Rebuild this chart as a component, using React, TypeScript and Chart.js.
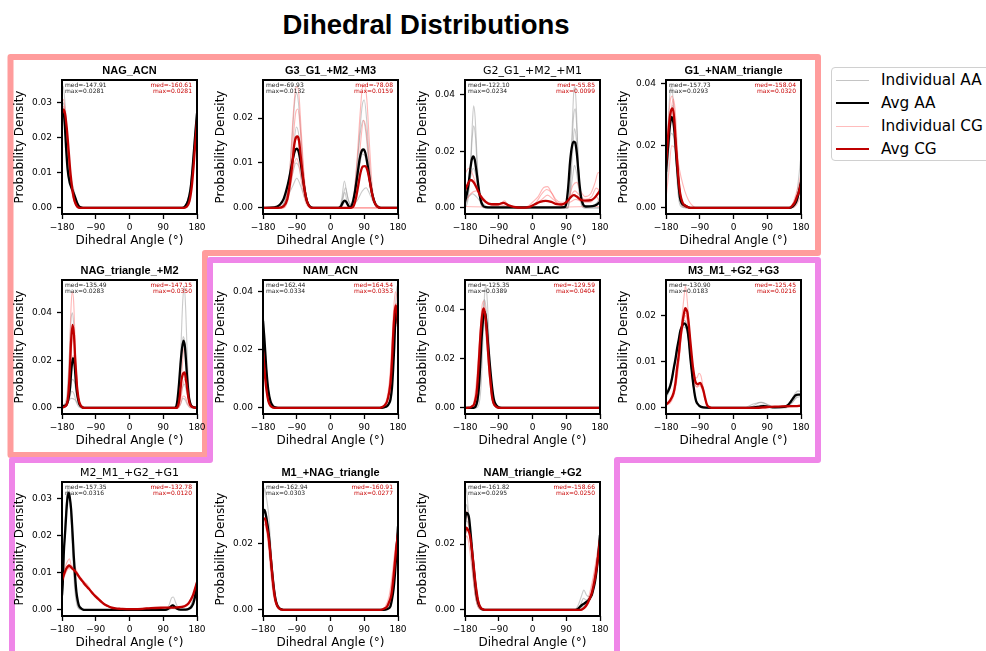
import React, { useEffect, useRef } from "react";
import { Chart, registerables } from "chart.js";

Chart.register(...registerables);
Chart.defaults.font.family = '"DejaVu Sans", sans-serif';

type Pt = [number, number];

const ANGLE_TICKS = [-180, -90, 0, 90, 180];

const PANEL_TITLES = [
  "NAG_ACN", "G3_G1_+M2_+M3", "G2_G1_+M2_+M1", "G1_+NAM_triangle",
  "NAG_triangle_+M2", "NAM_ACN", "NAM_LAC", "M3_M1_+G2_+G3",
  "M2_M1_+G2_+G1", "M1_+NAG_triangle", "NAM_triangle_+G2",
];
const TITLE_BOLD = [true, true, false, true, true, true, true, true, false, true, true];
const MEDIAN_AA = [-147.91, -69.93, -122.10, -157.73, -135.49, 162.44, -125.35, -130.90, -157.35, -162.94, -161.82];
const MEDIAN_CG = [-160.61, -78.08, -55.85, -158.04, -147.15, 164.54, -129.59, -125.45, -132.78, -160.91, -158.66];
const Y_TICKS = [
  [0, 0.01, 0.02, 0.03], [0, 0.01, 0.02], [0, 0.02, 0.04], [0, 0.02, 0.04],
  [0, 0.02, 0.04], [0, 0.02, 0.04], [0, 0.02, 0.04], [0, 0.01, 0.02],
  [0, 0.01, 0.02, 0.03], [0, 0.02], [0, 0.02],
];

// ---------- NAG_ACN ----------
const nagAcnAvgAA: Pt[] = [[-180,0.027],[-177,0.0281],[-173,0.0245],[-169,0.017],[-165,0.011],[-160,0.0075],[-155,0.0058],[-150,0.0045],[-145,0.003],[-140,0.0015],[-135,0.0005],[-128,0.0001],[-118,0],[140,0],[148,0.0004],[156,0.002],[163,0.0055],[168,0.011],[172,0.0165],[176,0.022],[180,0.027]];
const nagAcnAvgCG: Pt[] = [[-180,0.027],[-176,0.0281],[-172,0.027],[-167,0.0225],[-162,0.016],[-157,0.0095],[-152,0.005],[-147,0.0022],[-142,0.0008],[-136,0.0001],[-128,0],[145,0],[152,0.0003],[160,0.002],[166,0.006],[171,0.012],[175,0.018],[178,0.022],[180,0.025]];
const nagAcnIndAA: Pt[][] = [
  [[-180,0.033],[-177,0.0348],[-172,0.03],[-166,0.02],[-160,0.011],[-154,0.006],[-148,0.0035],[-142,0.0015],[-135,0.0003],[-125,0],[145,0],[155,0.002],[163,0.007],[170,0.015],[175,0.022],[180,0.028]],
  [[-180,0.025],[-177,0.026],[-172,0.022],[-166,0.015],[-160,0.01],[-154,0.0075],[-148,0.005],[-142,0.0025],[-135,0.0007],[-126,0],[140,0],[150,0.0008],[160,0.004],[168,0.011],[174,0.019],[180,0.026]],
  [[-180,0.029],[-176,0.03],[-171,0.025],[-165,0.016],[-158,0.008],[-151,0.004],[-144,0.0018],[-137,0.0005],[-128,0],[142,0],[152,0.001],[161,0.005],[169,0.013],[175,0.02],[180,0.027]],
];
const nagAcnIndCG: Pt[][] = [
  [[-180,0.03],[-176,0.031],[-171,0.027],[-165,0.018],[-159,0.01],[-153,0.0045],[-147,0.0018],[-140,0.0004],[-132,0],[146,0],[154,0.0008],[162,0.004],[169,0.011],[175,0.019],[180,0.026]],
  [[-180,0.025],[-176,0.0265],[-171,0.024],[-165,0.017],[-159,0.009],[-153,0.0045],[-147,0.002],[-140,0.0006],[-132,0],[148,0],[156,0.001],[164,0.005],[171,0.013],[176,0.019],[180,0.023]],
  [[-180,0.028],[-175,0.029],[-170,0.025],[-164,0.016],[-158,0.008],[-152,0.0035],[-146,0.0013],[-139,0.0002],[-130,0],[144,0],[153,0.0006],[161,0.003],[168,0.009],[174,0.017],[180,0.025]],
];

// ---------- G3_G1_+M2_+M3 ----------
const g3g1AvgAA: Pt[] = [[-180,0],[-150,0.0001],[-135,0.0007],[-125,0.002],[-115,0.0048],[-108,0.0075],[-100,0.011],[-95,0.0127],[-90,0.0132],[-85,0.0125],[-80,0.0103],[-74,0.0068],[-68,0.0035],[-62,0.0013],[-55,0.0003],[-45,0],[20,0],[28,0.0004],[33,0.0012],[38,0.0016],[43,0.0012],[48,0.0004],[52,0.0002],[58,0.0008],[65,0.0035],[72,0.0075],[78,0.011],[84,0.0128],[88,0.013],[93,0.0122],[99,0.0095],[105,0.006],[112,0.0028],[120,0.0008],[130,0.0001],[140,0],[180,0]];
const g3g1AvgCG: Pt[] = [[-180,0],[-140,0],[-125,0.0004],[-115,0.002],[-108,0.0055],[-102,0.0095],[-97,0.0138],[-92,0.0157],[-88,0.0159],[-84,0.015],[-80,0.012],[-75,0.008],[-70,0.0045],[-64,0.0018],[-57,0.0004],[-48,0],[55,0],[62,0.0005],[68,0.0022],[74,0.005],[80,0.0078],[86,0.0092],[92,0.0093],[98,0.0085],[104,0.0062],[110,0.0035],[117,0.0013],[125,0.0003],[135,0],[180,0]];
const g3g1IndAA: Pt[][] = [
  [[-180,0],[-135,0],[-120,0.002],[-110,0.007],[-102,0.016],[-95,0.024],[-90,0.0255],[-85,0.023],[-78,0.015],[-70,0.006],[-62,0.0015],[-50,0],[25,0],[32,0.0015],[38,0.0035],[44,0.0015],[52,0.0002],[62,0.002],[70,0.008],[78,0.017],[85,0.023],[90,0.024],[96,0.02],[103,0.011],[110,0.004],[118,0.001],[130,0],[180,0]],
  [[-180,0],[-135,0],[-122,0.0015],[-110,0.0045],[-100,0.008],[-92,0.01],[-85,0.0093],[-76,0.006],[-66,0.0025],[-55,0.0005],[-45,0],[22,0],[30,0.002],[37,0.006],[44,0.003],[52,0.0008],[62,0.003],[72,0.011],[80,0.017],[87,0.0195],[94,0.017],[102,0.01],[110,0.004],[120,0.001],[132,0],[180,0]],
  [[-180,0],[-145,0],[-128,0.0015],[-112,0.003],[-100,0.005],[-90,0.0066],[-80,0.005],[-70,0.0025],[-58,0.0006],[-45,0],[25,0],[33,0.0025],[40,0.0045],[47,0.002],[55,0.0006],[70,0.0015],[85,0.0038],[95,0.0045],[105,0.003],[115,0.0012],[128,0.0002],[140,0],[180,0]],
  [[-180,0],[-135,0],[-120,0.0015],[-108,0.006],[-98,0.014],[-91,0.018],[-84,0.016],[-76,0.009],[-68,0.0035],[-58,0.0007],[-48,0],[28,0],[35,0.001],[40,0.0015],[46,0.0006],[58,0.001],[68,0.004],[77,0.009],[85,0.012],[92,0.0115],[100,0.008],[108,0.0035],[117,0.001],[128,0],[180,0]],
];
const g3g1IndCG: Pt[][] = [
  [[-180,0],[-130,0],[-118,0.002],[-108,0.009],[-100,0.02],[-94,0.026],[-89,0.027],[-84,0.025],[-78,0.017],[-71,0.008],[-64,0.0025],[-55,0.0004],[-45,0],[180,0]],
  [[-180,0],[-128,0],[-115,0.002],[-106,0.007],[-98,0.013],[-92,0.0155],[-86,0.015],[-79,0.01],[-71,0.0045],[-62,0.0012],[-52,0],[55,0],[63,0.003],[71,0.011],[79,0.021],[86,0.027],[91,0.0271],[97,0.024],[104,0.014],[111,0.005],[119,0.001],[130,0],[180,0]],
  [[-180,0],[-125,0],[-114,0.0015],[-104,0.006],[-96,0.01],[-90,0.011],[-84,0.0095],[-77,0.0055],[-69,0.002],[-60,0.0003],[-50,0],[58,0],[66,0.002],[74,0.008],[82,0.016],[88,0.0195],[94,0.018],[101,0.012],[108,0.005],[116,0.0012],[126,0],[180,0]],
  [[-180,0],[-128,0],[-116,0.0018],[-106,0.008],[-98,0.017],[-92,0.0215],[-87,0.022],[-82,0.019],[-76,0.012],[-69,0.005],[-61,0.0012],[-52,0],[180,0]],
];

// ---------- G2_G1_+M2_+M1 ----------
const g2g1AvgAA: Pt[] = [[-180,0.0021],[-175,0.005],[-170,0.009],[-166,0.0135],[-162,0.017],[-158,0.0182],[-154,0.017],[-150,0.0135],[-146,0.0095],[-142,0.0055],[-137,0.0022],[-132,0.0008],[-125,0.0003],[-110,0.0002],[60,0.0002],[85,0.0003],[90,0.0015],[95,0.007],[100,0.016],[105,0.0215],[110,0.0234],[114,0.023],[118,0.0195],[122,0.0135],[126,0.0075],[130,0.0035],[135,0.0012],[142,0.0005],[160,0.0006],[172,0.0012],[180,0.0021]];
const g2g1AvgCG: Pt[] = [[-180,0.0062],[-172,0.0085],[-165,0.0099],[-158,0.0092],[-150,0.0074],[-140,0.0045],[-125,0.0021],[-110,0.0013],[-90,0.0013],[-78,0.0018],[-65,0.001],[-50,0.0004],[-30,0.0001],[-10,0.0003],[5,0.0012],[20,0.0021],[35,0.0025],[50,0.0021],[65,0.0013],[78,0.0012],[92,0.0022],[102,0.0038],[110,0.0045],[118,0.004],[127,0.003],[140,0.0026],[155,0.0027],[165,0.0035],[174,0.005],[180,0.0062]];
const g2g1IndAA: Pt[][] = [
  [[-180,0],[-172,0.003],[-166,0.013],[-161,0.028],[-157,0.036],[-153,0.032],[-148,0.018],[-143,0.006],[-137,0.001],[-128,0],[95,0],[100,0.006],[105,0.025],[110,0.041],[113,0.043],[117,0.035],[122,0.016],[127,0.004],[133,0.0005],[140,0],[180,0]],
  [[-180,0.001],[-172,0.004],[-166,0.013],[-161,0.024],[-157,0.029],[-152,0.025],[-147,0.013],[-141,0.004],[-134,0.0006],[-125,0],[93,0],[99,0.006],[105,0.022],[110,0.033],[114,0.035],[119,0.026],[124,0.011],[130,0.002],[137,0],[180,0]],
  [[-180,0.004],[-172,0.006],[-165,0.011],[-158,0.014],[-152,0.012],[-145,0.006],[-138,0.002],[-128,0.0005],[-115,0],[95,0],[101,0.007],[107,0.02],[112,0.028],[117,0.024],[123,0.012],[129,0.004],[136,0.001],[150,0.0005],[170,0.001],[180,0.004]],
  [[-180,0.003],[-170,0.004],[-160,0.005],[-150,0.004],[-140,0.0025],[-125,0.0008],[-110,0],[92,0],[100,0.004],[107,0.011],[112,0.015],[118,0.012],[125,0.005],[132,0.0015],[145,0.0005],[165,0.001],[180,0.003]],
];
const g2g1IndCG: Pt[][] = [
  [[-180,0.012],[-170,0.014],[-160,0.012],[-150,0.008],[-140,0.005],[-125,0.002],[-110,0.0012],[-95,0.001],[-80,0.002],[-70,0.0012],[-55,0.0003],[-35,0],[-15,0.0004],[0,0.002],[15,0.004],[30,0.0072],[40,0.0075],[52,0.005],[65,0.002],[80,0.0015],[95,0.003],[108,0.008],[118,0.009],[128,0.006],[140,0.004],[155,0.005],[167,0.009],[175,0.0125],[180,0.012]],
  [[-180,0.006],[-172,0.009],[-163,0.01],[-152,0.008],[-140,0.0045],[-125,0.002],[-105,0.001],[-85,0.0015],[-75,0.0025],[-65,0.001],[-45,0.0002],[-25,0],[-5,0.0005],[10,0.002],[25,0.005],[38,0.0065],[50,0.0055],[62,0.003],[75,0.002],[90,0.002],[103,0.0045],[113,0.006],[125,0.0045],[140,0.003],[158,0.004],[170,0.007],[180,0.006]],
  [[-180,0.002],[-165,0.005],[-150,0.006],[-135,0.004],[-115,0.0015],[-90,0.001],[-60,0.0005],[-30,0],[0,0.0008],[25,0.003],[40,0.0045],[55,0.003],[75,0.001],[100,0.002],[115,0.003],[135,0.002],[155,0.002],[170,0.004],[180,0.002]],
  [[-180,0.0005],[-120,0.0003],[0,0.0002],[120,0.0004],[180,0.0005]],
];

// ---------- G1_+NAM_triangle ----------
const g1NamAvgAA: Pt[] = [[-180,0.0116],[-175,0.019],[-170,0.026],[-165,0.0293],[-160,0.0272],[-156,0.0225],[-151,0.014],[-147,0.0083],[-143,0.0035],[-138,0.0015],[-130,0.0008],[-122,0.0003],[-112,0],[150,0],[158,0.0005],[165,0.0015],[170,0.003],[175,0.0055],[180,0.0083]];
const g1NamAvgCG: Pt[] = [[-180,0.0137],[-175,0.022],[-170,0.029],[-165,0.0318],[-162,0.032],[-158,0.0285],[-154,0.021],[-150,0.0145],[-146,0.0085],[-142,0.0045],[-136,0.0018],[-128,0.0007],[-118,0.0001],[-108,0],[148,0],[156,0.0006],[163,0.0017],[169,0.0035],[174,0.005],[180,0.0078]];
const g1NamIndAA: Pt[][] = [
  [[-180,0.014],[-175,0.026],[-170,0.036],[-165,0.0392],[-160,0.033],[-155,0.02],[-150,0.008],[-145,0.002],[-138,0.0003],[-125,0],[150,0],[160,0.001],[168,0.004],[175,0.011],[180,0.017]],
  [[-180,0.005],[-174,0.015],[-168,0.028],[-162,0.033],[-157,0.028],[-152,0.016],[-147,0.006],[-141,0.0015],[-133,0.0002],[-120,0],[152,0],[162,0.0008],[170,0.003],[176,0.006],[180,0.009]],
  [[-180,0.012],[-173,0.019],[-166,0.024],[-160,0.023],[-154,0.016],[-148,0.007],[-141,0.0025],[-133,0.0008],[-120,0.0001],[-110,0],[155,0],[165,0.001],[172,0.003],[180,0.007]],
];
const g1NamIndCG: Pt[][] = [
  [[-180,0.003],[-172,0.012],[-165,0.02],[-158,0.0195],[-150,0.016],[-140,0.01],[-130,0.0055],[-120,0.0025],[-110,0.0008],[-100,0],[155,0],[168,0.001],[180,0.004]],
  [[-180,0.016],[-174,0.027],[-168,0.035],[-163,0.036],[-158,0.031],[-153,0.02],[-148,0.009],[-142,0.003],[-135,0.0005],[-122,0],[150,0],[160,0.002],[168,0.005],[175,0.008],[180,0.011]],
  [[-180,0.01],[-173,0.02],[-166,0.031],[-161,0.035],[-156,0.032],[-151,0.022],[-146,0.011],[-140,0.003],[-132,0.0005],[-120,0],[152,0],[163,0.0015],[172,0.005],[180,0.009]],
];

// ---------- NAG_triangle_+M2 ----------
const nagTriAvgAA: Pt[] = [[-180,0.0007],[-170,0.001],[-164,0.003],[-159,0.0077],[-155,0.016],[-151,0.021],[-146,0.0175],[-143,0.011],[-140,0.0063],[-136,0.003],[-133,0.0014],[-126,0.0003],[-115,0],[120,0],[125,0.0008],[128,0.0035],[132,0.01],[136,0.0185],[140,0.025],[144,0.0283],[148,0.0255],[151,0.019],[154,0.012],[158,0.0049],[161,0.0025],[164,0.0011],[170,0.0003],[180,0.0001]];
const nagTriAvgCG: Pt[] = [[-180,0.0002],[-170,0.0008],[-165,0.003],[-162,0.0077],[-159,0.016],[-156,0.0275],[-152,0.035],[-148,0.0305],[-145,0.021],[-142,0.014],[-140,0.0091],[-136,0.004],[-133,0.002],[-126,0.0003],[-118,0],[125,0],[130,0.0012],[133,0.0035],[136,0.008],[139,0.012],[143,0.0145],[147,0.015],[150,0.0125],[153,0.0091],[157,0.0045],[160,0.002],[164,0.0008],[169,0.0003],[180,0]];
const nagTriIndAA: Pt[][] = [
  [[-180,0],[-168,0.001],[-160,0.004],[-154,0.007],[-148,0.006],[-141,0.002],[-134,0.0003],[-125,0],[125,0],[132,0.006],[137,0.025],[142,0.045],[146,0.0513],[150,0.041],[155,0.018],[160,0.005],[166,0.0008],[175,0],[180,0]],
  [[-180,0],[-166,0.001],[-159,0.006],[-153,0.012],[-147,0.011],[-141,0.005],[-134,0.001],[-125,0],[125,0],[132,0.005],[138,0.02],[143,0.03],[148,0.027],[153,0.015],[158,0.005],[165,0.0007],[175,0],[180,0]],
  [[-180,0.0005],[-168,0.004],[-161,0.02],[-156,0.037],[-152,0.04],[-148,0.033],[-143,0.016],[-137,0.004],[-130,0.0005],[-120,0],[128,0],[136,0.0015],[142,0.004],[148,0.0035],[155,0.0012],[163,0],[180,0]],
  [[-180,0.001],[-166,0.002],[-156,0.004],[-146,0.0035],[-136,0.0015],[-125,0.0002],[-115,0],[125,0],[133,0.003],[140,0.008],[146,0.01],[152,0.007],[158,0.003],[166,0.0006],[175,0],[180,0]],
];
const nagTriIndCG: Pt[][] = [
  [[-180,0],[-167,0.003],[-161,0.018],[-157,0.038],[-153,0.049],[-149,0.045],[-145,0.028],[-140,0.01],[-134,0.002],[-126,0],[130,0],[137,0.002],[143,0.005],[149,0.0045],[155,0.0018],[163,0.0002],[175,0],[180,0]],
  [[-180,0],[-166,0.002],[-160,0.012],[-155,0.025],[-151,0.03],[-147,0.027],[-142,0.015],[-137,0.005],[-130,0.0008],[-122,0],[128,0],[134,0.004],[140,0.016],[145,0.025],[150,0.022],[155,0.012],[161,0.003],[168,0.0003],[180,0]],
  [[-180,0],[-165,0.002],[-159,0.01],[-154,0.019],[-150,0.022],[-145,0.018],[-140,0.009],[-134,0.002],[-126,0],[130,0],[137,0.004],[143,0.01],[148,0.012],[153,0.009],[159,0.004],[166,0.0006],[175,0],[180,0]],
];

// ---------- NAM_ACN ----------
const namAcnAvgAA: Pt[] = [[-180,0.03],[-177,0.025],[-175,0.0213],[-171,0.0132],[-166,0.0063],[-160,0.0023],[-153,0.0006],[-144,0.0001],[-135,0],[132,0],[142,0.0002],[151,0.0006],[156,0.0015],[160,0.0029],[164,0.007],[167,0.0132],[170,0.021],[172,0.028],[175,0.0334],[178,0.032],[180,0.029]];
const namAcnAvgCG: Pt[] = [[-180,0.02],[-177,0.015],[-174,0.01],[-170,0.0055],[-166,0.0025],[-160,0.0007],[-153,0.0001],[-145,0],[128,0],[136,0.0002],[142,0.0006],[147,0.0013],[151,0.0023],[156,0.005],[160,0.0086],[164,0.016],[167,0.0247],[170,0.031],[173.6,0.0353],[177,0.0335],[180,0.028]];
const namAcnIndAA: Pt[][] = [
  [[-180,0.033],[-176,0.026],[-172,0.016],[-167,0.007],[-162,0.0025],[-155,0.0006],[-145,0],[140,0],[150,0.0005],[158,0.0025],[164,0.009],[169,0.02],[173,0.033],[177,0.042],[180,0.038]],
  [[-180,0.026],[-176,0.019],[-171,0.011],[-166,0.005],[-160,0.0015],[-152,0.0003],[-142,0],[135,0],[145,0.0008],[153,0.003],[160,0.008],[166,0.017],[171,0.026],[176,0.031],[180,0.028]],
  [[-180,0.03],[-176,0.023],[-172,0.014],[-167,0.0065],[-161,0.0022],[-154,0.0004],[-145,0],[142,0],[151,0.0006],[159,0.003],[165,0.011],[170,0.024],[174,0.034],[178,0.035],[180,0.033]],
];
const namAcnIndCG: Pt[][] = [
  [[-180,0.027],[-176,0.019],[-172,0.01],[-167,0.004],[-161,0.0012],[-153,0.0002],[-145,0],[132,0],[142,0.0008],[150,0.003],[157,0.009],[163,0.02],[168,0.033],[173,0.04],[177,0.038],[180,0.033]],
  [[-180,0.019],[-176,0.013],[-171,0.006],[-166,0.0022],[-159,0.0005],[-150,0],[130,0],[140,0.0005],[149,0.002],[157,0.007],[164,0.019],[170,0.031],[175,0.033],[180,0.029]],
  [[-180,0.024],[-176,0.018],[-171,0.009],[-166,0.0035],[-159,0.0008],[-150,0],[134,0],[144,0.0007],[152,0.003],[159,0.01],[165,0.024],[171,0.035],[176,0.036],[180,0.031]],
];

// ---------- NAM_LAC ----------
const namLacAvgAA: Pt[] = [[-180,0],[-160,0],[-156,0.0001],[-151.6,0.0007],[-147,0.003],[-142.7,0.0088],[-139.5,0.017],[-136.4,0.0264],[-133,0.034],[-129,0.0386],[-126.5,0.0389],[-122,0.0331],[-118.5,0.026],[-115,0.0196],[-111,0.013],[-107,0.0074],[-103.5,0.0038],[-100,0.002],[-92,0.0004],[-82,0],[180,0]];
const namLacAvgCG: Pt[] = [[-180,0],[-170,0.0001],[-165,0.0003],[-160,0.0008],[-156,0.0014],[-152,0.0035],[-148.9,0.0061],[-145.8,0.012],[-142.7,0.0196],[-139.5,0.028],[-136.4,0.0345],[-133,0.039],[-130,0.0404],[-126,0.0375],[-122,0.031],[-118.5,0.023],[-115,0.0155],[-111,0.0092],[-108,0.0047],[-104.5,0.0022],[-101,0.0011],[-94,0.0002],[-85,0],[180,0]];
const namLacIndAA: Pt[][] = [
  [[-180,0],[-150,0],[-142,0.002],[-136,0.012],[-131,0.033],[-127,0.048],[-124,0.0495],[-120,0.042],[-115,0.024],[-110,0.009],[-104,0.002],[-96,0.0002],[-85,0],[180,0]],
  [[-180,0],[-152,0],[-144,0.004],[-138,0.018],[-133,0.036],[-129,0.044],[-125,0.042],[-120,0.032],[-114,0.016],[-108,0.005],[-101,0.0008],[-92,0],[180,0]],
  [[-180,0],[-158,0],[-148,0.003],[-141,0.015],[-135,0.03],[-130,0.035],[-125,0.031],[-119,0.02],[-112,0.008],[-105,0.002],[-96,0.0002],[-85,0],[180,0]],
];
const namLacIndCG: Pt[][] = [
  [[-180,0],[-162,0],[-153,0.003],[-146,0.014],[-140,0.03],[-135,0.041],[-130,0.0435],[-125,0.038],[-119,0.025],[-113,0.011],[-107,0.003],[-99,0.0004],[-90,0],[180,0]],
  [[-180,0],[-164,0],[-155,0.0035],[-148,0.013],[-141,0.028],[-136,0.036],[-131,0.038],[-126,0.034],[-120,0.023],[-114,0.011],[-107,0.0035],[-99,0.0006],[-90,0],[180,0]],
];

// ---------- M3_M1_+G2_+G3 ----------
const m3m1AvgAA: Pt[] = [[-180,0.0029],[-174,0.0037],[-169,0.0047],[-164,0.0064],[-160,0.0083],[-155,0.0105],[-151,0.0126],[-146,0.0148],[-142,0.0166],[-137,0.0177],[-132,0.0183],[-127,0.018],[-123,0.017],[-119,0.0145],[-115.5,0.0112],[-111,0.0078],[-106.6,0.0047],[-103,0.0027],[-99.4,0.0014],[-94,0.0007],[-90.5,0.0004],[-80,0.0001],[-60,0],[40,0],[55,0.0001],[70,0.0003],[80,0.0004],[90,0.0003],[110,0.0001],[135,0.0002],[145,0.0006],[153,0.0014],[160,0.0022],[165,0.0027],[172,0.0029],[180,0.0029]];
const m3m1AvgCG: Pt[] = [[-180,0.0007],[-170,0.0015],[-160,0.0032],[-155,0.0053],[-151,0.0083],[-146,0.0115],[-142,0.0148],[-138.5,0.017],[-135,0.0191],[-132,0.0205],[-128.5,0.0216],[-125.5,0.0213],[-122.7,0.0206],[-119,0.018],[-115.5,0.0148],[-112,0.0118],[-108.4,0.009],[-105,0.0071],[-102,0.0058],[-99,0.0053],[-95.8,0.0051],[-92,0.0053],[-88.7,0.0054],[-84,0.0047],[-79.7,0.0036],[-75,0.0019],[-70.8,0.0007],[-65,0.0002],[-58,0],[60,0],[90,0.0002],[120,0.0003],[150,0.0004],[165,0.0004],[180,0.0005]];
const m3m1IndAA: Pt[][] = [
  [[-180,0.0035],[-170,0.005],[-160,0.0085],[-150,0.013],[-140,0.0175],[-132,0.019],[-124,0.0175],[-116,0.012],[-108,0.0055],[-100,0.0018],[-90,0.0004],[-75,0],[30,0],[45,0.0006],[60,0.001],[75,0.0012],[90,0.0008],[110,0.0002],[135,0.0002],[150,0.0012],[165,0.0032],[172,0.0037],[180,0.0035]],
  [[-180,0.002],[-170,0.004],[-160,0.008],[-150,0.012],[-141,0.016],[-133,0.0175],[-125,0.017],[-117,0.0125],[-109,0.006],[-101,0.002],[-92,0.0005],[-80,0],[40,0],[55,0.0005],[70,0.0012],[85,0.0009],[100,0.0002],[140,0],[155,0.001],[168,0.0022],[180,0.0025]],
  [[-180,0.0025],[-170,0.0042],[-160,0.0082],[-150,0.0125],[-140,0.017],[-131,0.019],[-123,0.0172],[-115,0.0105],[-107,0.0045],[-99,0.0014],[-90,0.0003],[-78,0],[50,0],[65,0.0004],[80,0.0006],[95,0.0003],[120,0],[145,0.0004],[160,0.0015],[172,0.0028],[180,0.003]],
];
const m3m1IndCG: Pt[][] = [
  [[-180,0.0008],[-165,0.0022],[-155,0.005],[-145,0.012],[-138,0.019],[-132,0.024],[-128,0.0264],[-123,0.023],[-117,0.016],[-110,0.0095],[-104,0.0065],[-98,0.0065],[-92,0.0075],[-87,0.007],[-81,0.0045],[-74,0.0015],[-66,0.0002],[-55,0],[70,0],[110,0.0002],[150,0.0003],[180,0.0006]],
  [[-180,0.0006],[-165,0.0018],[-155,0.0045],[-145,0.011],[-138,0.017],[-132,0.02],[-127,0.0205],[-122,0.019],[-116,0.014],[-110,0.0085],[-103,0.0052],[-97,0.0045],[-91,0.0048],[-86,0.0045],[-80,0.003],[-73,0.001],[-65,0.0001],[-55,0],[80,0],[120,0.0003],[160,0.0004],[180,0.0005]],
  [[-180,0.0005],[-165,0.0015],[-155,0.004],[-146,0.0095],[-139,0.0155],[-133,0.019],[-128,0.02],[-123,0.0185],[-117,0.0135],[-110,0.0078],[-103,0.005],[-96,0.0046],[-90,0.0052],[-84,0.0045],[-78,0.0028],[-71,0.0008],[-62,0.0001],[-52,0],[60,0],[100,0.0003],[140,0.0002],[180,0.0004]],
];

// ---------- M2_M1_+G2_+G1 ----------
const m2m1AvgAA: Pt[] = [[-180,0.0039],[-178,0.007],[-175.5,0.0147],[-171,0.022],[-168.4,0.0264],[-165,0.0305],[-162,0.0316],[-159,0.0302],[-155.8,0.0273],[-152,0.021],[-148.7,0.0147],[-145,0.009],[-141.5,0.0048],[-138,0.0025],[-135,0.0012],[-130,0.0005],[-126,0.0002],[-118,0],[95,0],[103,0.0003],[110,0.0009],[115,0.0012],[120,0.0009],[126,0.0004],[135,0.0001],[150,0.0001],[160,0.0004],[165,0.0008],[170,0.0017],[174,0.0032],[177,0.005],[180,0.007]];
const m2m1AvgCG: Pt[] = [[-180,0.0079],[-175,0.0095],[-171,0.0106],[-167,0.0114],[-164.8,0.0117],[-161,0.012],[-157.6,0.0117],[-154,0.0113],[-150.5,0.011],[-146,0.0106],[-141.5,0.01],[-136,0.0092],[-130.8,0.0084],[-125,0.0077],[-120,0.007],[-114,0.0063],[-108.4,0.0057],[-102,0.0049],[-95,0.0041],[-88,0.0034],[-81.5,0.0028],[-75,0.0022],[-68,0.0016],[-59,0.0011],[-50,0.0007],[-37,0.0004],[-23,0.0003],[0,0.0002],[12.5,0.0002],[35,0.0003],[57,0.0005],[93,0.0006],[129,0.0007],[147,0.001],[157,0.0017],[164.7,0.003],[170,0.0042],[175,0.0058],[180,0.0075]];
const m2m1IndAA: Pt[][] = [
  [[-180,0.004],[-175,0.015],[-169,0.028],[-163,0.0329],[-157,0.029],[-151,0.017],[-145,0.006],[-139,0.0015],[-130,0.0002],[-120,0],[95,0],[105,0.0012],[112,0.0032],[117,0.0035],[123,0.002],[130,0.0005],[140,0],[160,0.0005],[170,0.003],[180,0.008]],
  [[-180,0.0035],[-175,0.014],[-169,0.026],[-163,0.031],[-157,0.027],[-150,0.014],[-144,0.005],[-137,0.0012],[-128,0.0001],[-118,0],[100,0],[110,0.0008],[116,0.0015],[122,0.001],[130,0.0002],[150,0],[162,0.0008],[172,0.0035],[180,0.0065]],
  [[-180,0.0045],[-175,0.015],[-170,0.027],[-164,0.032],[-158,0.0285],[-152,0.016],[-146,0.0055],[-140,0.0013],[-131,0.0001],[-120,0],[105,0],[113,0.0004],[120,0.0003],[140,0],[160,0.0006],[170,0.0028],[180,0.007]],
];
const m2m1IndCG: Pt[][] = [
  [[-180,0.009],[-172,0.0115],[-166,0.013],[-160,0.0138],[-154,0.0115],[-148,0.012],[-142,0.0108],[-136,0.0095],[-128,0.0085],[-120,0.0075],[-112,0.0068],[-104,0.0055],[-96,0.0043],[-88,0.0037],[-80,0.0028],[-70,0.0017],[-58,0.0009],[-40,0.0004],[-20,0.0002],[10,0.0002],[40,0.0004],[70,0.0006],[100,0.0007],[130,0.0008],[150,0.0012],[162,0.0024],[172,0.0045],[180,0.008]],
  [[-180,0.007],[-172,0.0095],[-165,0.011],[-158,0.012],[-151,0.011],[-144,0.0095],[-137,0.0092],[-130,0.0083],[-122,0.0068],[-114,0.0062],[-106,0.0054],[-98,0.0045],[-90,0.0038],[-82,0.0032],[-72,0.002],[-60,0.0011],[-45,0.0005],[-20,0.0002],[20,0.0003],[55,0.0005],[90,0.0006],[125,0.0006],[150,0.0009],[165,0.0026],[175,0.0052],[180,0.0072]],
  [[-180,0.0075],[-173,0.0098],[-167,0.0115],[-161,0.011],[-155,0.012],[-149,0.0105],[-142,0.0098],[-134,0.0085],[-126,0.0078],[-118,0.0072],[-110,0.006],[-100,0.0048],[-92,0.0035],[-84,0.0031],[-76,0.0025],[-66,0.0014],[-52,0.0007],[-35,0.0003],[0,0.0002],[35,0.0003],[70,0.0005],[105,0.0006],[140,0.001],[158,0.0018],[170,0.0038],[180,0.0078]],
];

// ---------- M1_+NAG_triangle ----------
const m1NagAvgAA: Pt[] = [[-180,0.0293],[-176,0.0303],[-172,0.0285],[-169,0.0265],[-166.6,0.0247],[-163,0.021],[-160,0.0167],[-156.5,0.0125],[-153,0.0086],[-150,0.0057],[-147,0.0035],[-143.5,0.0019],[-140,0.001],[-135,0.0004],[-131,0.0002],[-122,0],[142,0],[152,0.0003],[159.6,0.001],[164,0.0032],[168.5,0.0066],[172,0.011],[174.8,0.0157],[177.5,0.0205],[180,0.0253]];
const m1NagAvgCG: Pt[] = [[-180,0.0273],[-177,0.0276],[-175,0.0277],[-172,0.0265],[-169,0.0245],[-166.6,0.0232],[-163,0.02],[-160,0.0167],[-156.5,0.0123],[-153,0.0081],[-150,0.0052],[-147,0.003],[-143,0.0015],[-139,0.0007],[-135,0.0003],[-130,0.0001],[-120,0],[133,0],[143,0.0004],[150.7,0.001],[156,0.0023],[162.3,0.0045],[166,0.0078],[170.3,0.0126],[175,0.0182],[180,0.0232]];
const m1NagIndAA: Pt[][] = [
  [[-180,0.032],[-176,0.0369],[-171,0.034],[-165,0.029],[-159,0.019],[-153,0.009],[-147,0.0035],[-140,0.0008],[-130,0],[145,0],[156,0.0008],[165,0.005],[172,0.014],[177,0.022],[180,0.027]],
  [[-180,0.027],[-176,0.03],[-171,0.029],[-166,0.024],[-160,0.016],[-154,0.008],[-148,0.003],[-141,0.0008],[-132,0],[140,0],[152,0.0006],[162,0.004],[170,0.012],[176,0.02],[180,0.024]],
];
const m1NagIndCG: Pt[][] = [
  [[-180,0.029],[-176,0.03],[-171,0.027],[-165,0.02],[-159,0.012],[-153,0.0055],[-146,0.0018],[-138,0.0003],[-128,0],[135,0],[148,0.0007],[158,0.0035],[166,0.01],[173,0.018],[180,0.025]],
  [[-180,0.025],[-175,0.026],[-170,0.0235],[-164,0.0175],[-158,0.01],[-152,0.0045],[-145,0.0014],[-137,0.0002],[-128,0],[132,0],[145,0.0008],[156,0.004],[165,0.011],[173,0.019],[180,0.022]],
];

// ---------- NAM_triangle_+G2 ----------
const namTriAvgAA: Pt[] = [[-180,0.0268],[-177,0.0293],[-175,0.0295],[-172,0.0291],[-169,0.0278],[-166,0.0245],[-163,0.0207],[-159.5,0.016],[-156,0.0116],[-152.5,0.0078],[-149,0.0045],[-145.5,0.0025],[-142,0.0013],[-138,0.0006],[-134,0.0002],[-125,0],[112,0],[118,0.0001],[122,0.0004],[127,0.001],[132,0.0015],[136,0.0018],[140,0.0021],[144.6,0.0025],[150,0.003],[155,0.0039],[158,0.0045],[162,0.0062],[166.7,0.0086],[171,0.012],[175.6,0.0167],[180,0.0227]];
const namTriAvgCG: Pt[] = [[-180,0.0232],[-178,0.0245],[-176,0.025],[-172,0.0243],[-167,0.0227],[-163.5,0.02],[-160,0.0167],[-156,0.0125],[-152.6,0.0086],[-149,0.0055],[-145.5,0.003],[-141,0.0013],[-136.7,0.0005],[-130,0.0001],[-122,0],[125,0],[131,0.0001],[138,0.0006],[144.6,0.0015],[151,0.003],[158,0.005],[162.5,0.0072],[166.7,0.0096],[171,0.0128],[175.6,0.0167],[180,0.0212]];
const namTriIndAA: Pt[][] = [
  [[-180,0.033],[-177,0.037],[-173,0.033],[-168,0.025],[-162,0.016],[-156,0.008],[-150,0.003],[-143,0.0008],[-135,0],[112,0],[122,0.0015],[130,0.004],[137,0.006],[144,0.0045],[152,0.004],[160,0.006],[168,0.011],[175,0.018],[180,0.024]],
  [[-180,0.024],[-176,0.027],[-171,0.026],[-165,0.02],[-159,0.012],[-153,0.0055],[-147,0.002],[-140,0.0004],[-132,0],[118,0],[128,0.0015],[136,0.0035],[143,0.003],[152,0.0035],[161,0.007],[169,0.013],[176,0.02],[180,0.025]],
  [[-180,0.029],[-176,0.032],[-171,0.029],[-165,0.021],[-159,0.012],[-153,0.005],[-147,0.0015],[-140,0.0002],[-132,0],[120,0],[132,0.0008],[141,0.0015],[150,0.0028],[158,0.005],[166,0.009],[174,0.016],[180,0.021]],
];
const namTriIndCG: Pt[][] = [
  [[-180,0.028],[-176,0.03],[-171,0.027],[-165,0.02],[-158,0.011],[-152,0.0045],[-146,0.0012],[-138,0.0002],[-130,0],[128,0],[140,0.0012],[150,0.004],[160,0.009],[168,0.014],[175,0.019],[180,0.023]],
  [[-180,0.021],[-176,0.0225],[-171,0.021],[-165,0.016],[-158,0.009],[-152,0.0038],[-145,0.001],[-137,0.0001],[-130,0],[132,0],[144,0.0015],[154,0.0045],[162,0.009],[170,0.014],[176,0.018],[180,0.02]],
];

const AVG_AA = [nagAcnAvgAA, g3g1AvgAA, g2g1AvgAA, g1NamAvgAA, nagTriAvgAA, namAcnAvgAA, namLacAvgAA, m3m1AvgAA, m2m1AvgAA, m1NagAvgAA, namTriAvgAA];
const AVG_CG = [nagAcnAvgCG, g3g1AvgCG, g2g1AvgCG, g1NamAvgCG, nagTriAvgCG, namAcnAvgCG, namLacAvgCG, m3m1AvgCG, m2m1AvgCG, m1NagAvgCG, namTriAvgCG];
const IND_AA = [nagAcnIndAA, g3g1IndAA, g2g1IndAA, g1NamIndAA, nagTriIndAA, namAcnIndAA, namLacIndAA, m3m1IndAA, m2m1IndAA, m1NagIndAA, namTriIndAA];
const IND_CG = [nagAcnIndCG, g3g1IndCG, g2g1IndCG, g1NamIndCG, nagTriIndCG, namAcnIndCG, namLacIndCG, m3m1IndCG, m2m1IndCG, m1NagIndCG, namTriIndCG];

// ---------- layout & style ----------
const COL_LEFT = [62, 263, 465, 666];
const ROW_TOP = [80, 280, 482];
const GRID_POS: [number, number][] = [[0, 0], [1, 0], [2, 0], [3, 0], [0, 1], [1, 1], [2, 1], [3, 1], [0, 2], [1, 2], [2, 2]];
const FRAME_W = 135;
const FRAME_H = 134;
const PAD_L = 52, PAD_T = 24, PAD_R = 16, PAD_B = 38;

const RED = "#bf0000";
const RED_TEXT = "#c80000";
const PINK = "rgba(255, 110, 110, 0.5)";
const GREY = "rgba(150, 150, 150, 0.5)";

const fmtAngle = (v: number) => (v < 0 ? "\u2212" + Math.abs(v) : String(v));
const peak = (pts: Pt[]) => Math.max(...pts.map((p) => p[1]));

function Panel({ idx }: { idx: number }) {
  const ref = useRef<HTMLCanvasElement>(null);
  const [c, r] = GRID_POS[idx];
  const left = COL_LEFT[c] - PAD_L;
  const top = ROW_TOP[r] - PAD_T;
  const width = FRAME_W + PAD_L + PAD_R;
  const height = FRAME_H + PAD_T + PAD_B;

  useEffect(() => {
    const avgAA = AVG_AA[idx], avgCG = AVG_CG[idx];
    const indAA = IND_AA[idx], indCG = IND_CG[idx];
    const all = [avgAA, avgCG, ...indAA, ...indCG];
    const top = Math.max(...all.map(peak));
    const yMin = -0.05 * top, yMax = 1.05 * top;
    const yTicks = Y_TICKS[idx];

    const line = (pts: Pt[], color: string, w: number) => ({
      data: pts.map(([x, y]) => ({ x, y })),
      borderColor: color,
      borderWidth: w,
      pointRadius: 0,
      fill: false,
      tension: 0.4,
      cubicInterpolationMode: "monotone" as const,
    });

    const datasets = [
      line(avgCG, RED, 2.3),
      line(avgAA, "#000", 2.3),
      ...indCG.map((p) => line(p, PINK, 1.1)),
      ...indAA.map((p) => line(p, GREY, 1.1)),
    ];

    const maxAA = peak(avgAA), maxCG = peak(avgCG);

    const decor = {
      id: "panelDecor",
      afterDatasetsDraw(chart: any) {
        const { ctx, chartArea: a } = chart;
        ctx.save();
        ctx.strokeStyle = "#000";
        ctx.lineWidth = 2;
        ctx.strokeRect(a.left, a.top, a.right - a.left, a.bottom - a.top);
        ctx.font = '6px "DejaVu Sans"';
        ctx.textBaseline = "alphabetic";
        ctx.textAlign = "left";
        ctx.fillStyle = "#222";
        ctx.fillText(`med=${MEDIAN_AA[idx].toFixed(2)}`, a.left + 3, a.top + 6.5);
        ctx.fillText(`max=${maxAA.toFixed(4)}`, a.left + 3, a.top + 12.5);
        ctx.textAlign = "right";
        ctx.fillStyle = RED_TEXT;
        ctx.fillText(`med=${MEDIAN_CG[idx].toFixed(2)}`, a.right - 5, a.top + 6.5);
        ctx.fillText(`max=${maxCG.toFixed(4)}`, a.right - 5, a.top + 12.5);
        ctx.textAlign = "center";
        ctx.fillStyle = "#000";
        ctx.font = TITLE_BOLD[idx] ? 'bold 11px "Liberation Sans"' : '11px "DejaVu Sans"';
        ctx.fillText(PANEL_TITLES[idx], (a.left + a.right) / 2, a.top - 6);
        ctx.restore();
      },
    };

    const tickFont = { family: '"DejaVu Sans"', size: 9 };
    const titleFont = { family: '"DejaVu Sans"', size: 12 };

    const chart = new Chart(ref.current!, {
      type: "line",
      data: { datasets: datasets as any },
      options: {
        animation: false,
        responsive: false,
        devicePixelRatio: 1,
        events: [],
        layout: { padding: { left: 0, top: PAD_T, right: PAD_R, bottom: 0 } },
        plugins: { legend: { display: false }, tooltip: { enabled: false }, title: { display: false } },
        scales: {
          x: {
            type: "linear",
            min: -180,
            max: 180,
            afterBuildTicks: (s: any) => { s.ticks = ANGLE_TICKS.map((v) => ({ value: v })); },
            afterFit: (s: any) => { s.height = PAD_B; },
            ticks: { callback: (v: any) => fmtAngle(Number(v)), font: tickFont, color: "#000", padding: 3, autoSkip: false, maxRotation: 0 },
            grid: { drawOnChartArea: false, drawTicks: true, tickLength: 5, tickWidth: 1.3, tickColor: "#000" },
            border: { display: false },
            title: { display: true, text: "Dihedral Angle (°)", font: titleFont, color: "#000", padding: { top: 0, bottom: 4 } },
          },
          y: {
            type: "linear",
            min: yMin,
            max: yMax,
            afterBuildTicks: (s: any) => { s.ticks = yTicks.map((v) => ({ value: v })); },
            afterFit: (s: any) => { s.width = PAD_L; },
            ticks: { callback: (v: any) => Number(v).toFixed(2), font: tickFont, color: "#000", padding: 5 },
            grid: { drawOnChartArea: false, drawTicks: true, tickLength: 5, tickWidth: 1.3, tickColor: "#000" },
            border: { display: false },
            title: { display: true, text: "Probability Density", font: titleFont, color: "#000", padding: { top: 3, bottom: 0 } },
          },
        },
      } as any,
      plugins: [decor],
    });
    return () => chart.destroy();
  }, [idx]);

  return (
    <canvas
      ref={ref}
      width={width}
      height={height}
      style={{ position: "absolute", left, top, width, height }}
    />
  );
}

const LEGEND_ITEMS = [
  { label: "Individual AA", color: "#c4c4c4", w: 1 },
  { label: "Avg AA", color: "#000", w: 2 },
  { label: "Individual CG", color: "#ffbcbc", w: 1 },
  { label: "Avg CG", color: RED, w: 2 },
];

function Legend() {
  return (
    <div
      style={{
        position: "absolute", left: 831, top: 67, width: 170, height: 94,
        border: "1px solid #d0d0d0", borderRadius: 4, background: "#fff", boxSizing: "border-box",
      }}
    >
      {LEGEND_ITEMS.map((it, i) => (
        <div key={it.label} style={{ position: "absolute", left: 0, top: 3 + i * 23, height: 18, width: 170 }}>
          <div style={{ position: "absolute", left: 4, top: 9 - it.w / 2, width: 33, height: it.w, background: it.color }} />
          <div style={{ position: "absolute", left: 49, top: 0, lineHeight: "18px", fontSize: 15.3, fontFamily: '"DejaVu Sans"', color: "#000", whiteSpace: "nowrap" }}>
            {it.label}
          </div>
        </div>
      ))}
    </div>
  );
}

export default function App() {
  return (
    <div style={{ position: "fixed", left: 0, top: 0, width: 986, height: 651, overflow: "hidden", background: "#fff" }}>
      <svg width={986} height={651} style={{ position: "absolute", left: 0, top: 0 }}>
        <path d="M10.5,57 H818 V253 H205 V455 H10.5 Z" fill="none" stroke="#ff9c9c" strokeWidth={6} strokeLinejoin="round" />
        <path d="M12,670 V460 H210 V260 H818 V460 H617 V670" fill="none" stroke="#ef86e8" strokeWidth={6} strokeLinejoin="round" />
      </svg>
      <div
        style={{
          position: "absolute", left: 0, top: 9, width: 852, textAlign: "center",
          fontFamily: '"Liberation Sans", Arial, sans-serif', fontWeight: "bold", fontSize: 27.5, lineHeight: "32px", color: "#000",
        }}
      >
        Dihedral Distributions
      </div>
      {PANEL_TITLES.map((_, i) => (
        <Panel key={i} idx={i} />
      ))}
      <Legend />
    </div>
  );
}
